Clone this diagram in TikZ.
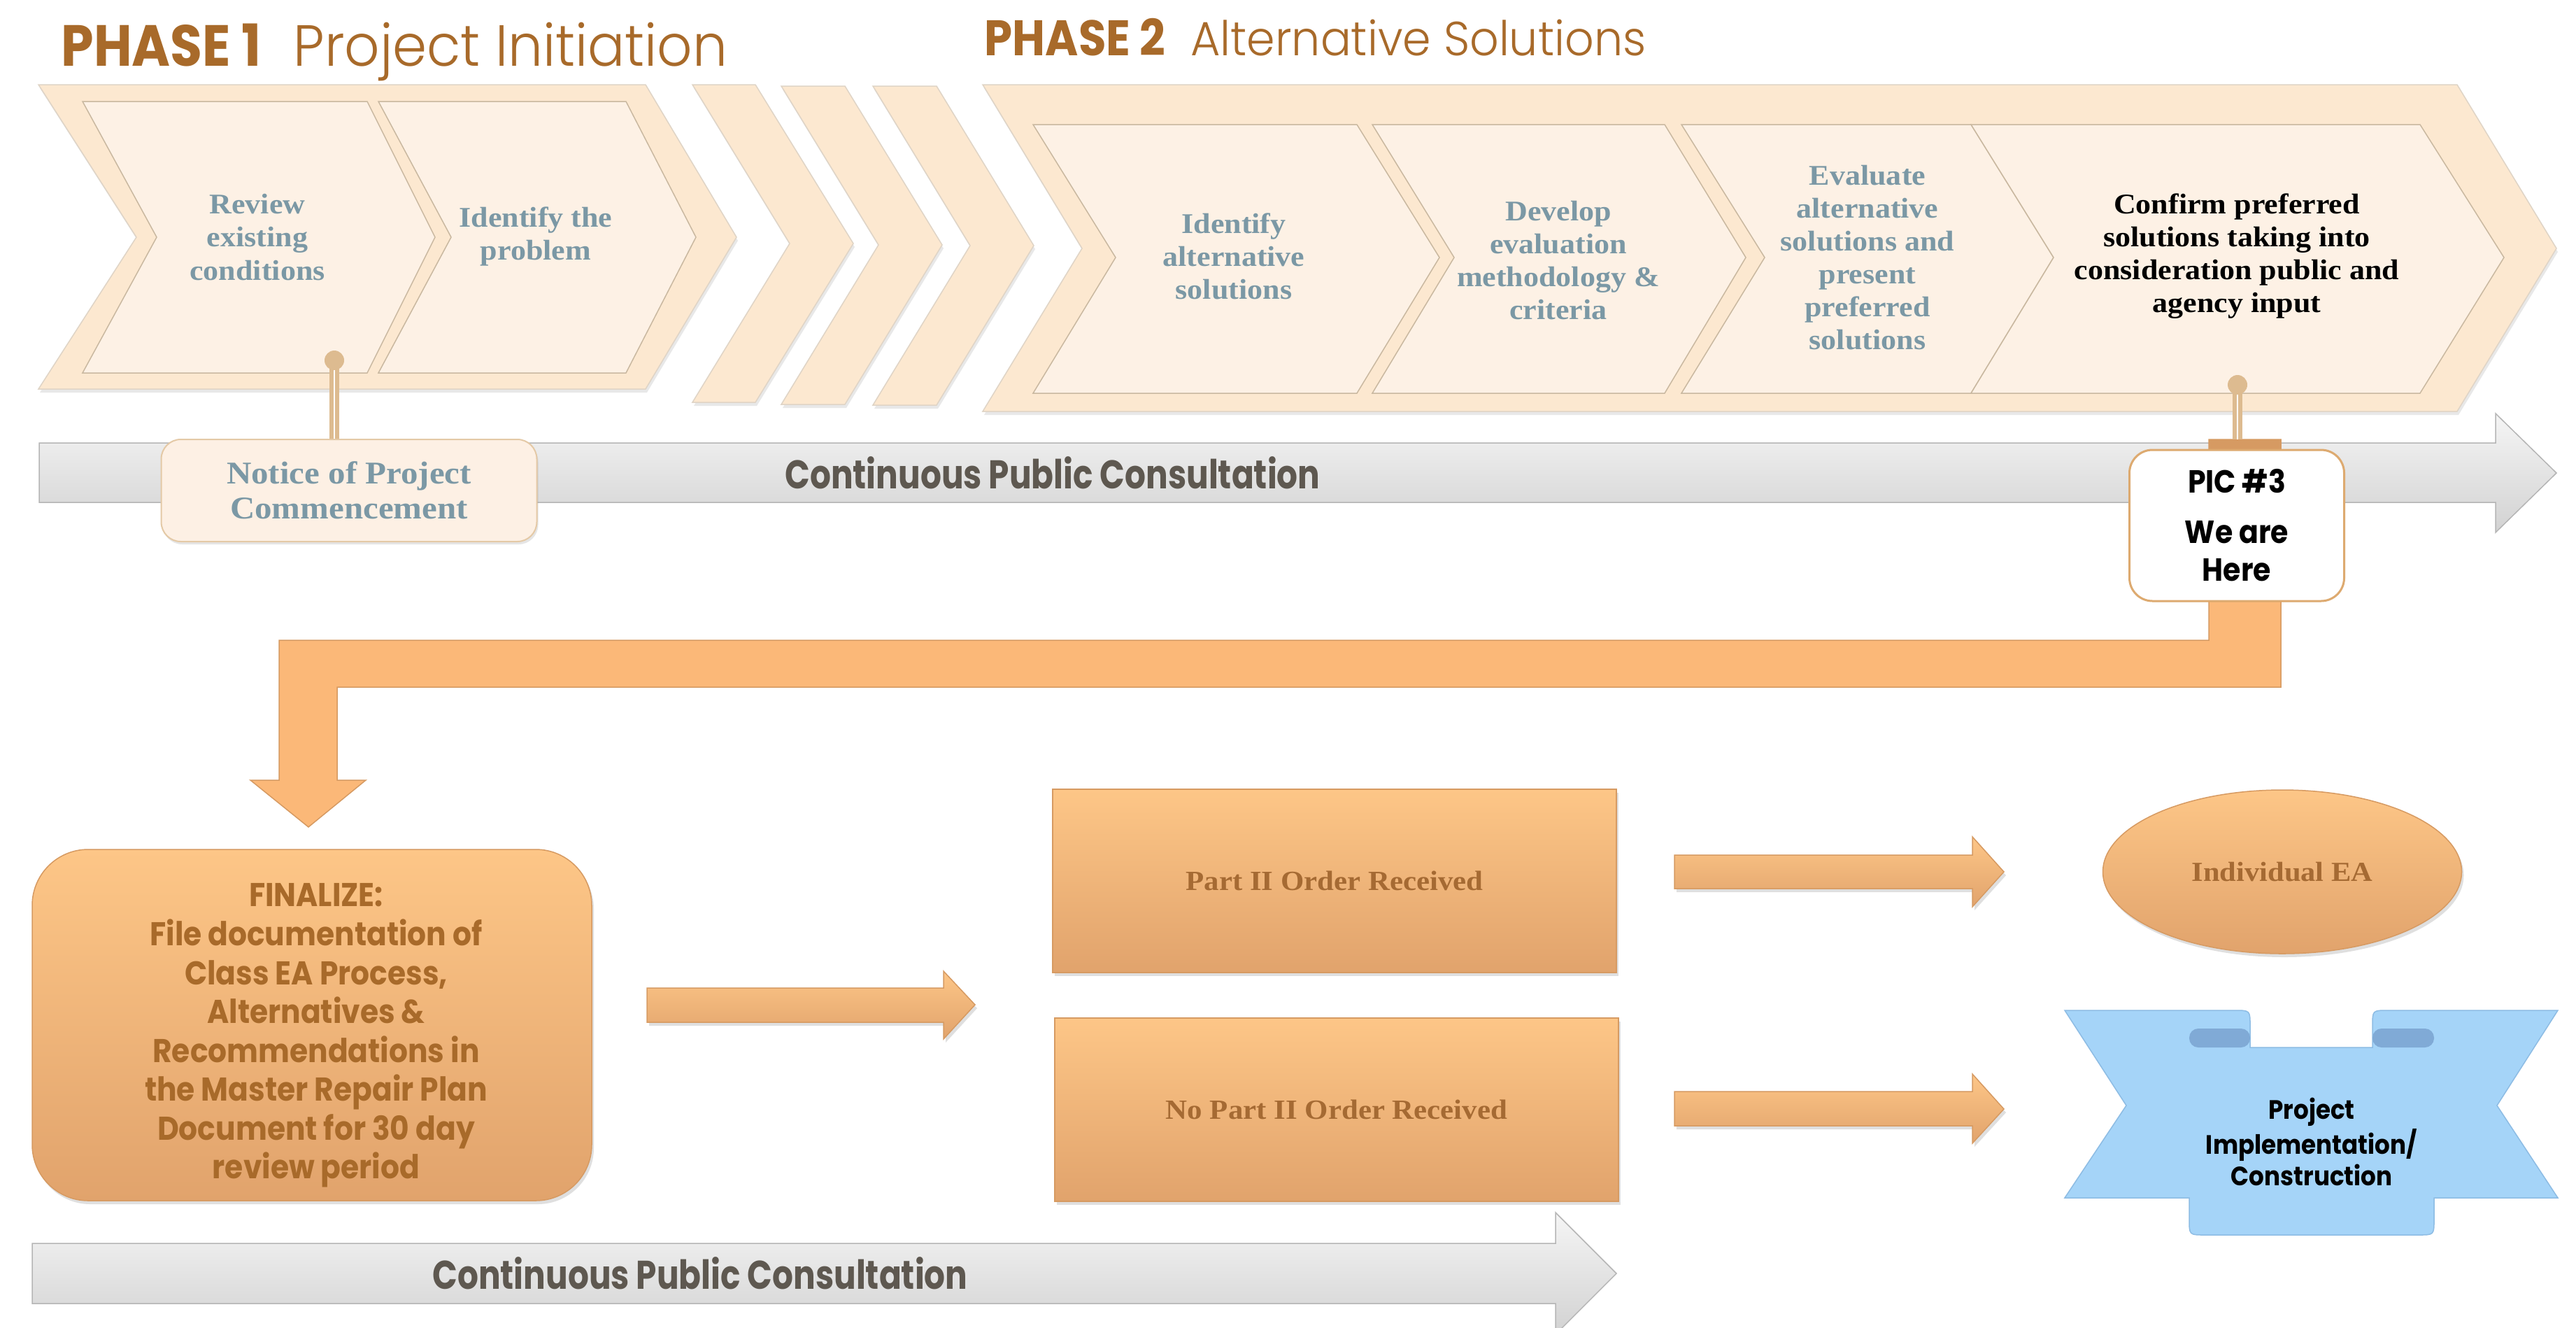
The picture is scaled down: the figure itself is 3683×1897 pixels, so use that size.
\documentclass[tikz,border=0pt]{standalone}
\usepackage{fontspec}
\setmainfont{Liberation Serif}
\newfontfamily\gothic[FakeStretch=0.9]{Poppins}
\newfontfamily\gothicc[FakeStretch=0.82]{Poppins}
\newfontfamily\gothiclight[FakeStretch=0.95]{Poppins Light}
\newfontfamily\bserif[FakeStretch=1.08]{Liberation Serif}
\usetikzlibrary{shapes.geometric,shadows}
\definecolor{titlebrown}{HTML}{A86A2A}
\definecolor{chevout}{HTML}{FCE8D0}
\definecolor{chevin}{HTML}{FDF1E5}
\definecolor{chevedge}{HTML}{C9B8A0}
\definecolor{slate}{HTML}{7B98A5}
\definecolor{orangeT}{HTML}{FDC687}
\definecolor{orangeB}{HTML}{E1A36C}
\definecolor{orangeA}{HTML}{FBB878}
\definecolor{orangeE}{HTML}{D69A62}
\definecolor{orangetxt}{HTML}{A56A33}
\definecolor{grayT}{HTML}{F5F5F5}
\definecolor{grayB}{HTML}{D2D2D2}
\definecolor{grayedge}{HTML}{B5B5B5}
\definecolor{consult}{HTML}{5E5850}
\definecolor{ribbon}{HTML}{A5D4F8}
\definecolor{ribbondark}{HTML}{80AAD6}
\definecolor{ribbonedge}{HTML}{8DBCE4}
\definecolor{tanline}{HTML}{DDBB90}
\definecolor{noticefill}{HTML}{FDF0E4}
\definecolor{picedge}{HTML}{DDAA70}
\tikzset{
  outerchev/.style={fill=chevout, draw=chevedge!60, line width=0.15mm,
    drop shadow={opacity=0.18, shadow xshift=0.2mm, shadow yshift=-0.5mm}},
  innerchev/.style={fill=chevin, draw=chevedge, line width=0.15mm},
  chevtext/.style={text=slate, align=center, inner sep=0pt,
    font=\bserif\bfseries\fontsize{11.6}{13.4}\selectfont},
  grayarrow/.style={top color=grayT, bottom color=grayB, draw=grayedge, line width=0.15mm},
  orangebox/.style={top color=orangeT, bottom color=orangeB, draw=orangeE, line width=0.15mm,
    drop shadow={opacity=0.25, shadow xshift=0.3mm, shadow yshift=-0.5mm}},
  orangearrow/.style={fill=orangeA, draw=orangeE, line width=0.15mm},
  consulttext/.style={text=consult, inner sep=0pt,
    font=\gothicc\bfseries\fontsize{16.3}{19}\selectfont},
  boxtext/.style={text=orangetxt, align=center, inner sep=0pt,
    font=\bserif\bfseries\fontsize{11.3}{13.4}\selectfont},
  pinline/.style={draw=tanline, line width=0.55mm, double=white, double distance=0.25mm},
}
\begin{document}
\begin{tikzpicture}[x=0.1mm,y=-0.1mm]
\useasboundingbox (0,0) rectangle (3683,1897);
\fill[white] (0,0) rectangle (3683,1897);

% ---------- titles ----------
\node[anchor=base west, inner sep=0pt, text=titlebrown,
  font=\fontsize{23.6}{28}\selectfont] (ph1) at (87,94)
  {{\gothic\bfseries PHASE 1}\hspace{0.55em}{\gothiclight Project Initiation}};
\node[anchor=base west, inner sep=0pt, text=titlebrown,
  font=\fontsize{20.3}{24}\selectfont] (ph2) at (1407,79)
  {{\gothic\bfseries PHASE 2}\hspace{0.5em}{\gothiclight\fontsize{19.5}{24}\selectfont Alternative Solutions}};

% ---------- phase 1 chevrons ----------
\draw[outerchev] (55,121) -- (923,121) -- (1053,339) -- (923,556) -- (55,556) -- (195,339) -- cycle;
\draw[innerchev] (118,145) -- (525,145) -- (622,339) -- (525,533) -- (118,533) -- (224,339) -- cycle;
\draw[innerchev] (541,145) -- (895,145) -- (995,339) -- (895,533) -- (541,533) -- (645,339) -- cycle;

% ---------- small chevrons ----------
\draw[outerchev] (990,121) -- (1080,121) -- (1220,348) -- (1080,575) -- (990,575) -- (1129,348) -- cycle;
\draw[outerchev] (1117,123) -- (1208,123) -- (1347,350) -- (1208,578) -- (1117,578) -- (1256,350) -- cycle;
\draw[outerchev] (1248,123) -- (1339,123) -- (1478,351) -- (1339,579) -- (1248,579) -- (1387,351) -- cycle;

% ---------- phase 2 chevrons ----------
\draw[outerchev] (1405,121) -- (3513,121) -- (3655,355) -- (3513,588) -- (1405,588) -- (1547,355) -- cycle;
\draw[innerchev] (1477,178) -- (1940,178) -- (2058,368) -- (1940,562) -- (1477,562) -- (1595,368) -- cycle;
\draw[innerchev] (1962,178) -- (2380,178) -- (2496,368) -- (2380,562) -- (1962,562) -- (2079,368) -- cycle;
\draw[innerchev] (2404,178) -- (2818,178) -- (2936,368) -- (2818,562) -- (2404,562) -- (2523,368) -- cycle;
\draw[innerchev] (2818,178) -- (3460,178) -- (3580,368) -- (3460,562) -- (2818,562) -- (2936,368) -- cycle;

% ---------- chevron texts ----------
\node[chevtext] (t1) at (368,339) {Review\\existing\\conditions};
\node[chevtext] (t2) at (766,338) {Identify the\\problem};
\node[chevtext] (t3) at (1764,366) {Identify\\alternative\\solutions};
\node[chevtext] (t4) at (2228,372) {Develop\\evaluation\\methodology \&\\criteria};
\node[chevtext] (t5) at (2670,368) {Evaluate\\alternative\\solutions and\\present\\preferred\\solutions};
\node[chevtext, text=black] (t6) at (3198,366) {Confirm preferred\\solutions taking into\\consideration public and\\agency input};

% ---------- continuous consultation (top) ----------
\draw[grayarrow] (56,633) -- (3568,633) -- (3568,591) -- (3655,676) -- (3568,761) -- (3568,718) -- (56,718) -- cycle;
\node[consulttext] (c1) at (1505,676) {Continuous Public Consultation};

% ---------- bent orange arrow ----------
\draw[orangearrow] (3158,628) -- (3261,628) -- (3261,982) -- (482,982) -- (482,1115) -- (523,1115)
  -- (441,1182) -- (358,1115) -- (399,1115) -- (399,915) -- (3158,915) -- cycle;
\fill[orangeE] (3158,628) rectangle (3261,645);

% ---------- notice + PIC ----------
\node[draw=tanline!80, line width=0.2mm, fill=noticefill, rounded corners=2.8mm,
  minimum width=53.7mm, minimum height=14.6mm, text=slate, align=center,
  font=\bserif\bfseries\fontsize{12.9}{14.2}\selectfont,
  drop shadow={opacity=0.2, shadow xshift=0.2mm, shadow yshift=-0.4mm}]
  (notice) at (499,701) {Notice of Project\\Commencement};
\node[draw=picedge, line width=0.3mm, fill=white, rounded corners=3.3mm,
  minimum width=30.7mm, minimum height=21.6mm, align=center, text=black,
  font=\gothic\bfseries\fontsize{13}{15.4}\selectfont]
  (pic) at (3198,751) {PIC \#3\\[5pt]We are\\Here};

\coordinate (dot1) at (478,515);
\coordinate (dot2) at (3199,550);
\draw[pinline] (dot1) -- (dot1 |- notice.north);
\draw[pinline] (dot2) -- (dot2 |- 0,628);
\fill[tanline] (dot1) circle[radius=1.4mm];
\fill[tanline] (dot2) circle[radius=1.4mm];

% ---------- lower section ----------
\node[orangebox, rounded corners=8mm, minimum width=80mm, minimum height=50.2mm] (fin) at (446,1465) {};
\node[align=center, inner sep=0pt, text=titlebrown,
  font=\gothic\bfseries\fontsize{13.4}{15.8}\selectfont]
  (fintext) at (452,1480) {FINALIZE:\\File documentation of\\Class EA Process,\\Alternatives \&\\Recommendations in\\the Master Repair Plan\\Document for 30 day\\review period};

\node[orangebox, minimum width=80.6mm, minimum height=26.2mm] (p2) at (1908,1259) {};
\node[boxtext] at (p2) {Part II Order Received};
\node[orangebox, minimum width=80.6mm, minimum height=26.2mm] (np2) at (1911,1586) {};
\node[boxtext] at (np2) {No Part II Order Received};

\draw[orangebox] (925,1412) -- (1349,1412) -- (1349,1388) -- (1394,1436) -- (1349,1485) -- (1349,1461) -- (925,1461) -- cycle;
\draw[orangebox] (2394,1222) -- (2820,1222) -- (2820,1196) -- (2865,1246) -- (2820,1296) -- (2820,1270) -- (2394,1270) -- cycle;
\draw[orangebox] (2394,1560) -- (2820,1560) -- (2820,1535) -- (2865,1585) -- (2820,1634) -- (2820,1609) -- (2394,1609) -- cycle;

\node[orangebox, ellipse, inner sep=0pt, minimum width=51.3mm, minimum height=23.4mm,
  text=orangetxt, font=\bserif\bfseries\fontsize{11.2}{13.4}\selectfont]
  (iea) at (3263,1246) {Individual EA};

% ribbon
\draw[fill=ribbon, draw=ribbonedge, line width=0.15mm]
  (2952,1444) -- (3195,1444) .. controls (3217,1444) .. (3217,1466) -- (3217,1497)
  -- (3392,1497) -- (3392,1466) .. controls (3392,1444) .. (3414,1444) -- (3657,1444)
  -- (3570,1580) -- (3657,1712) -- (3480,1712) -- (3480,1743) .. controls (3480,1765) .. (3458,1765)
  -- (3152,1765) .. controls (3130,1765) .. (3130,1743) -- (3130,1712) -- (2952,1712) -- (3040,1580) -- cycle;
\fill[ribbondark, rounded corners=1.3mm] (3130,1470) rectangle (3217,1497);
\fill[ribbondark, rounded corners=1.3mm] (3392,1470) rectangle (3480,1497);
\node[align=center, inner sep=0pt, text=black,
  font=\gothic\bfseries\fontsize{10.8}{12.8}\selectfont]
  (impl) at (3305,1632) {Project\\Implementation/\\Construction};

% ---------- continuous consultation (bottom) ----------
\draw[grayarrow] (46,1777) -- (2224,1777) -- (2224,1733) -- (2311,1820) -- (2224,1907) -- (2224,1863) -- (46,1863) -- cycle;
\node[consulttext] (c2) at (1001,1820) {Continuous Public Consultation};
\end{tikzpicture}
\end{document}
